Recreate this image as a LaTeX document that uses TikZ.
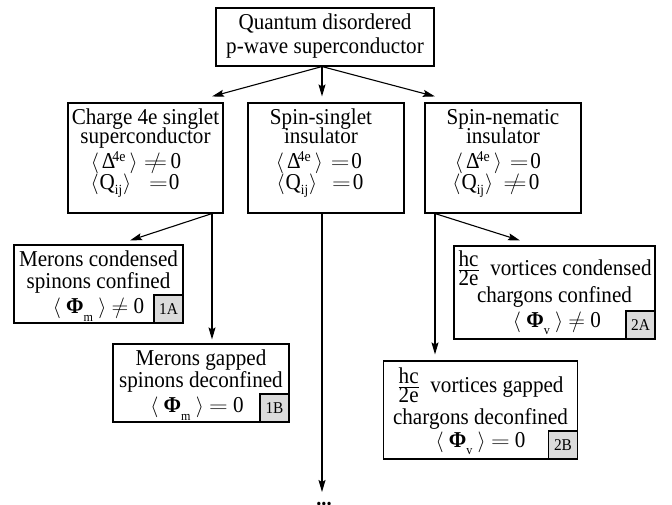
\documentclass[tikz,border=0pt]{standalone}
\usepackage[no-math]{fontspec}
\setmainfont{Liberation Serif}[FakeStretch=0.93]
\usepackage{graphicx}
\usetikzlibrary{arrows.meta}
\newcommand{\fsz}[2]{\fontsize{#1}{#2}\selectfont\lineskiplimit=-100pt\relax}
\newcommand{\myla}{{\fontsize{20.5}{20.5}\selectfont$\langle$}}
\newcommand{\myra}{{\fontsize{20.5}{20.5}\selectfont$\rangle$}}
\newcommand{\mysub}[2][-6pt]{\raisebox{#1}[0pt][0pt]{\fontsize{14}{14}\selectfont #2}}
\newcommand{\mysup}[1]{\raisebox{7pt}[0pt][0pt]{\fontsize{15}{15}\selectfont #1}}
\newcommand{\myeq}{\scalebox{1.25}[1]{$=$}}
\newcommand{\myneqb}{\ooalign{\scalebox{1.6}[1]{$=$}\cr\hidewidth$/$\hidewidth\cr}}
\newcommand{\myneqs}{\ooalign{\scalebox{1.12}[1]{$=$}\cr\hidewidth$/$\hidewidth\cr}}
\newcommand{\hcfrac}{\smash{$\frac{\mbox{hc}}{\mbox{2e}}$}}
\newcommand{\hstr}[1]{\rule{0pt}{#1}}
\newcommand{\dstr}[1]{\rule[-#1]{0pt}{#1}}
\newcommand{\pad}[1]{\hspace*{#1}\mbox{}}
\newcommand{\dline}[1]{\myla\kern3pt Δ\kern-3pt\mysup{4e}\kern4pt\myra#1}
\newcommand{\qline}[1]{\myla\kern1pt Q\mysub[-5pt]{ij}\kern1pt\myra#1}
\begin{document}
\begin{tikzpicture}[x=1pt,y=-1pt,
  box/.style={draw, line width=1.1pt, inner sep=0pt, align=center},
  lab/.style={draw, line width=1.1pt, fill=black!14, inner sep=0pt, minimum width=29pt, minimum height=28pt, anchor=south east, font=\fontsize{16.5}{16.5}\selectfont},
  arr/.style={line width=1.1pt, -{Stealth[length=12pt,width=7pt,inset=2pt]}}]
\useasboundingbox (0,0) rectangle (672,505);

\node[box, minimum width=218pt, minimum height=58pt, font=\fsz{22.7}{24}] (top) at (325,37)
  {\hstr{20pt}Quantum disordered\\p-wave superconductor\dstr{10pt}};

\node[box, minimum width=155pt, minimum height=110pt, font=\fsz{22.7}{18}] (charge) at (145.5,158)
  {\hstr{20pt}Charge 4e singlet\\superconductor\\[8pt]%
   \dline{\hspace*{6pt}\myneqb\kern3pt 0\pad{19pt}}\\[3pt]%
   \qline{\hspace*{18pt}\myeq\kern1pt 0\pad{21pt}}\dstr{21pt}};

\node[box, minimum width=156pt, minimum height=110pt, font=\fsz{22.7}{18}] (singlet) at (326,158)
  {\hstr{20pt}Spin-singlet\pad{10pt}\\insulator\pad{10pt}\\[8pt]%
   \dline{\hspace*{8pt}\myeq\kern2pt 0\pad{14pt}}\\[3pt]%
   \qline{\hspace*{15pt}\myeq\kern2pt 0\pad{12pt}}\dstr{21pt}};

\node[box, minimum width=156pt, minimum height=110pt, font=\fsz{22.7}{18}] (nematic) at (503,158)
  {\hstr{20pt}Spin-nematic\\insulator\\[8pt]%
   \dline{\hspace*{8pt}\myeq\kern2pt 0\pad{10pt}}\\[3pt]%
   \qline{\hspace*{10pt}\myneqb\kern2pt 0\pad{14pt}}\dstr{21pt}};

\node[box, minimum width=169pt, minimum height=78pt, font=\fsz{22.7}{22}] (m1A) at (98.5,284)
  {\hstr{20pt}Merons condensed\\spinons confined\\[3pt]%
   \myla\ {\bfseries Φ}\mysub[-8pt]{\fontsize{13}{13}\selectfont m}\ \myra\ \myneqs\ 0\dstr{9pt}};
\node[lab] (l1A) at (m1A.south east) {1A};

\node[box, minimum width=176pt, minimum height=78pt, font=\fsz{22.7}{22}] (m1B) at (201,383)
  {\hstr{20pt}Merons gapped\\spinons deconfined\\[3pt]%
   \myla\ {\bfseries Φ}\mysub[-8pt]{\fontsize{13}{13}\selectfont m}\ \myra\ \myeq\ 0\pad{8pt}\dstr{9pt}};
\node[lab] (l1B) at (m1B.south east) {1B};

\node[box, minimum width=201pt, minimum height=93pt, font=\fsz{22.7}{25}] (v2A) at (554.5,292.5)
  {\hstr{26pt}\hcfrac\ \ vortices condensed\\[2pt]chargons confined\\%
   \mbox{}\hspace*{5pt}\myla\ {\bfseries Φ}\mysub[-7pt]{\fontsize{13}{13}\selectfont v}\ \myra\ \myneqs\ 0\dstr{9pt}};
\node[lab] (l2A) at (v2A.south east) {2A};

\node[box, minimum width=194pt, minimum height=98pt, font=\fsz{22.7}{23}] (v2B) at (480.5,410)
  {\hstr{28pt}\hcfrac\ \ vortices gapped\\[9pt]chargons deconfined\\%
   \myla\ {\bfseries Φ}\mysub[-7pt]{\fontsize{13}{13}\selectfont v}\ \myra\ \myeq\ 0\dstr{9pt}};
\node[lab] (l2B) at (v2B.south east) {2B};

\node[font=\fontsize{22}{22}\selectfont\bfseries, inner sep=0pt, anchor=base] (dots) at (324,505) {...};

\coordinate (tS) at ([xshift=-3pt]top.south);
\coordinate (cX) at ([xshift=66.5pt]charge.south);
\coordinate (nX) at ([xshift=-68pt]nematic.south);
\coordinate (sX) at ([xshift=-4pt]singlet.south);

\coordinate (cTip) at ([yshift=6pt]cX |- charge.north);
\coordinate (sTip) at ([yshift=6pt]tS |- singlet.north);
\coordinate (nTip) at ([yshift=6pt]nX |- nematic.north);
\coordinate (aTip) at ([xshift=31.5pt,yshift=4pt]m1A.north);
\coordinate (bTip) at ([yshift=4pt]cX |- m1B.north);
\coordinate (a2Tip) at ([xshift=-34.5pt,yshift=5pt]v2A.north);
\coordinate (b2Tip) at ([yshift=6pt]nX |- v2B.north);
\coordinate (dTip) at ([yshift=13pt]sX |- dots.base);

\draw[arr] (tS) -- (cTip);
\draw[arr] (tS) -- (sTip);
\draw[arr] (tS) -- (nTip);
\draw[arr] (cX) -- (aTip);
\draw[arr] (cX) -- (bTip);
\draw[arr] (nX) -- (a2Tip);
\draw[arr] (nX) -- (b2Tip);
\draw[arr] (sX) -- (dTip);
\end{tikzpicture}
\end{document}
